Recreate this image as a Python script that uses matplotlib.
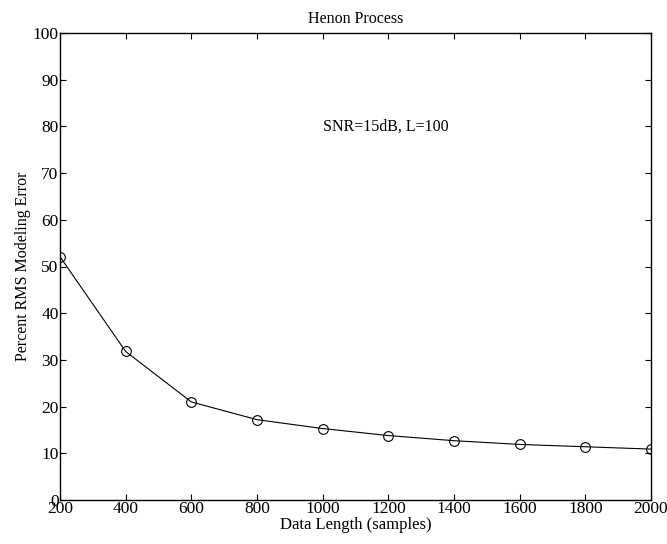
import matplotlib
matplotlib.use('Agg')
import matplotlib.pyplot as plt

# data
data_length = [200, 400, 600, 800, 1000, 1200, 1400, 1600, 1800, 2000]
rms_error = [52.1, 31.8, 21.0, 17.2, 15.3, 13.8, 12.7, 11.9, 11.4, 10.9]

plt.rcParams['font.family'] = ['Liberation Serif', 'DejaVu Serif']
plt.rcParams['font.size'] = 11.5

fig = plt.figure(figsize=(6.67, 5.44), dpi=100)
ax = fig.add_axes([60 / 667, 44 / 544, 591 / 667, 467 / 544])

ax.plot(data_length, rms_error, color='black', linewidth=0.8,
        marker='o', markersize=7, markerfacecolor='none', markeredgewidth=0.8)

ax.set_xlim(200, 2000)
ax.set_ylim(0, 100)
ax.set_xticks(range(200, 2001, 200))
ax.set_yticks(range(0, 101, 10))
ax.tick_params(direction='in', top=True, right=True, length=4, width=0.8,
               pad=1, labelsize=12.5)
for s in ax.spines.values():
    s.set_linewidth(1.0)

ax.set_title('Henon Process', fontsize=11.5, pad=7)
ax.set_xlabel('Data Length (samples)', fontsize=12, labelpad=0)
ax.set_ylabel('Percent RMS Modeling Error', fontsize=11.5, labelpad=1)
ax.text(1000, 80, 'SNR=15dB, L=100', fontsize=11.5, va='center', ha='left')

fig.savefig('out.png', dpi=100)
